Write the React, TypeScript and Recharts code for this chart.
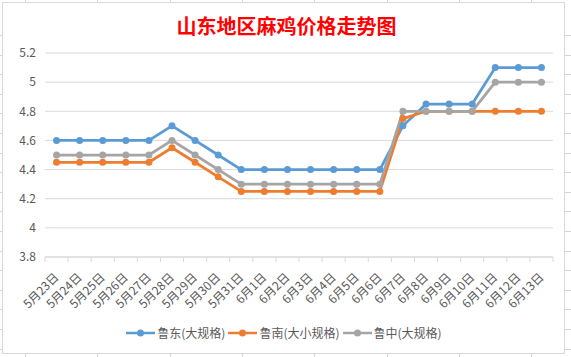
import React from 'react';
import { LineChart, Line, XAxis, YAxis, CartesianGrid, Legend } from 'recharts';

const categories = [
  '5月23日', '5月24日', '5月25日', '5月26日', '5月27日', '5月28日', '5月29日', '5月30日', '5月31日',
  '6月1日', '6月2日', '6月3日', '6月4日', '6月5日', '6月6日', '6月7日', '6月8日', '6月9日',
  '6月10日', '6月11日', '6月12日', '6月13日',
];
const ludong = [4.6, 4.6, 4.6, 4.6, 4.6, 4.7, 4.6, 4.5, 4.4, 4.4, 4.4, 4.4, 4.4, 4.4, 4.4, 4.7, 4.85, 4.85, 4.85, 5.1, 5.1, 5.1];
const lunan = [4.45, 4.45, 4.45, 4.45, 4.45, 4.55, 4.45, 4.35, 4.25, 4.25, 4.25, 4.25, 4.25, 4.25, 4.25, 4.75, 4.8, 4.8, 4.8, 4.8, 4.8, 4.8];
const luzhong = [4.5, 4.5, 4.5, 4.5, 4.5, 4.6, 4.5, 4.4, 4.3, 4.3, 4.3, 4.3, 4.3, 4.3, 4.3, 4.8, 4.8, 4.8, 4.8, 5.0, 5.0, 5.0];
const yTicks = [3.8, 4, 4.2, 4.4, 4.6, 4.8, 5, 5.2];
const seriesNames = ['鲁东(大规格)', '鲁南(大小规格)', '鲁中(大规格)'];
const title = '山东地区麻鸡价格走势图';

const colors = ['#5B9BD5', '#ED7D31', '#A5A5A5'];
const keys = ['ludong', 'lunan', 'luzhong'];

const data = categories.map((c, i) => ({
  name: c,
  ludong: ludong[i],
  lunan: lunan[i],
  luzhong: luzhong[i],
}));

const W = 571;
const H = 357;
const margin = { top: 53, right: 18, bottom: 23, left: 5 };
const yAxisWidth = 40;
const plotWidth = W - margin.left - margin.right - yAxisWidth;
const halfBand = plotWidth / categories.length / 2;
const FONT = '"Noto Sans CJK SC", "Noto Sans", sans-serif';

const XTick = (props: any) => {
  const { x, y, payload, index } = props;
  const off = halfBand;
  const isLast = index === categories.length - 1;
  return (
    <g>
      <line x1={x - off} y1={y} x2={x - off} y2={y + 5} stroke="#d9d9d9" strokeWidth={1} />
      {isLast && <line x1={x + off} y1={y} x2={x + off} y2={y + 5} stroke="#d9d9d9" strokeWidth={1} />}
      <text
        x={0}
        y={0}
        transform={`translate(${x + 3},${y + 21}) rotate(-45)`}
        textAnchor="end"
        fontSize={12}
        fill="#595959"
        fontFamily={FONT}
      >
        {payload.value}
      </text>
    </g>
  );
};

const LegendContent = () => (
  <div style={{ display: 'flex', justifyContent: 'center', alignItems: 'center', fontFamily: FONT, fontSize: 12, color: '#595959', height: 17 }}>
    {seriesNames.map((n, i) => (
      <div key={n} style={{ display: 'flex', alignItems: 'center', marginRight: 3 }}>
        <svg width={29} height={10} style={{ marginRight: 2 }}>
          <line x1={0} y1={5} x2={29} y2={5} stroke={colors[i]} strokeWidth={2.5} />
          <circle cx={14.5} cy={5} r={3.5} fill={colors[i]} />
        </svg>
        <span>{n}</span>
      </div>
    ))}
  </div>
);

const SheetGrid = () => {
  const cols: number[] = [];
  for (let x = 25; x < W; x += 72.3) cols.push(Math.round(x) + 0.5);
  const rows: number[] = [];
  for (let y = 35; y < H; y += 19.6) rows.push(Math.round(y) + 0.5);
  return (
    <svg width={W} height={H} style={{ position: 'absolute', left: 0, top: 0 }}>
      {cols.map((x) => (
        <line key={'c' + x} x1={x} y1={0} x2={x} y2={H} stroke="#d4d4d4" />
      ))}
      {rows.map((y) => (
        <line key={'r' + y} x1={0} y1={y} x2={W} y2={y} stroke="#d4d4d4" />
      ))}
      <rect x={2.5} y={2.5} width={562} height={351} fill="#ffffff" stroke="#d9d9d9" />
    </svg>
  );
};

export default function App() {
  return (
    <div style={{ position: 'absolute', left: 0, top: 0, width: W, height: H, background: '#fff', overflow: 'hidden' }}>
      <SheetGrid />
      <div
        style={{
          position: 'absolute',
          left: 0,
          top: 15,
          width: W,
          textAlign: 'center',
          fontFamily: FONT,
          fontWeight: 'bold',
          fontSize: 20,
          lineHeight: '22px',
          color: '#FF0000',
          paddingLeft: 1,
        }}
      >
        {title}
      </div>
      <div style={{ position: 'absolute', left: 0, top: 0 }}>
        <LineChart width={W} height={H} data={data} margin={margin}>
          <CartesianGrid vertical={false} stroke="#d9d9d9" strokeWidth={1} />
          <XAxis
            dataKey="name"
            scale="band"
            interval={0}
            tickLine={false}
            tickSize={0}
            tickMargin={0}
            axisLine={{ stroke: '#d9d9d9' }}
            tick={<XTick />}
            height={60}
          />
          <YAxis
            width={yAxisWidth}
            domain={[3.8, 5.2]}
            ticks={yTicks}
            axisLine={false}
            tickLine={false}
            tickSize={6}
            tickMargin={3}
            tick={{ fontSize: 12, fill: '#595959', fontFamily: FONT }}
            tickFormatter={(v: number) => String(Math.round(v * 10) / 10)}
          />
          <Legend content={<LegendContent />} wrapperStyle={{ top: 324, left: 0, width: W }} />
          {keys.map((k, i) => (
            <Line
              key={k}
              type="linear"
              dataKey={k}
              name={seriesNames[i]}
              stroke={colors[i]}
              strokeWidth={2.75}
              dot={{ r: 3.5, fill: colors[i], stroke: colors[i], strokeWidth: 0 }}
              activeDot={false}
              isAnimationActive={false}
            />
          ))}
        </LineChart>
      </div>
    </div>
  );
}
